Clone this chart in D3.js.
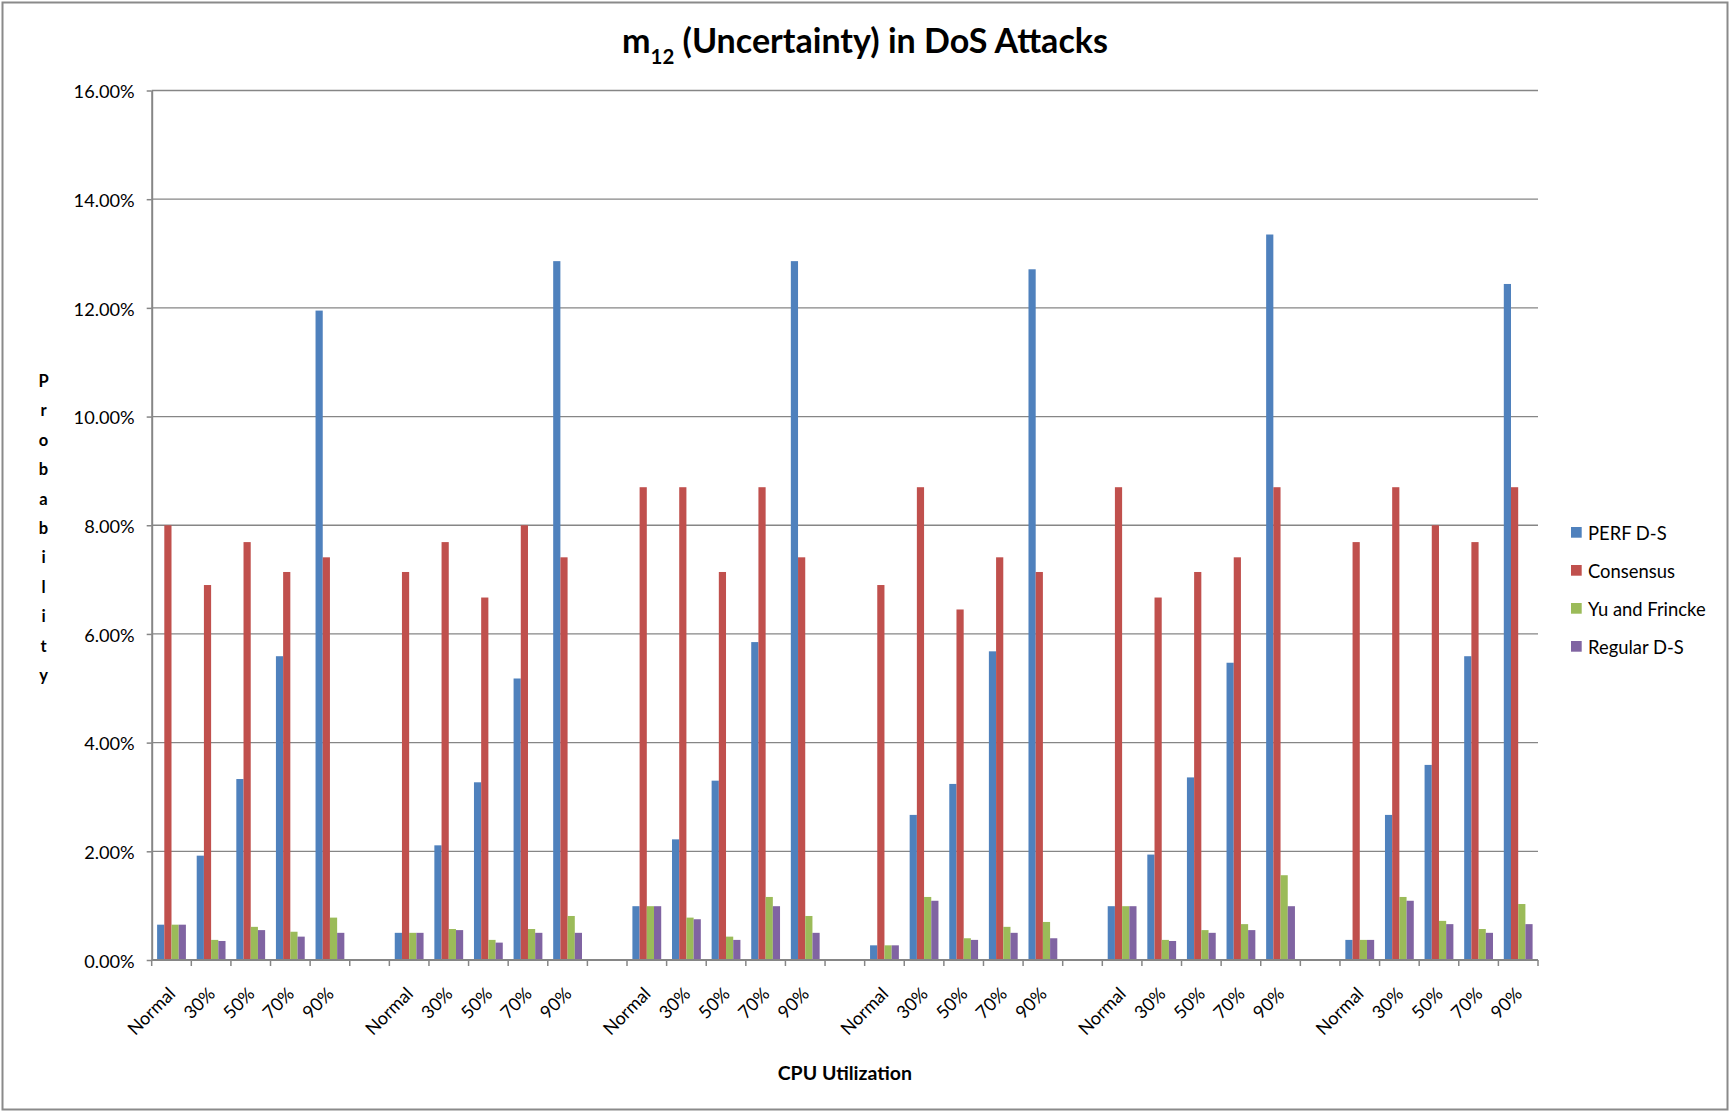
<!DOCTYPE html>
<html><head><meta charset="utf-8">
<script src="https://cdn.jsdelivr.net/npm/d3@7"></script>
<style>
html,body{margin:0;padding:0;background:#fff}
svg{display:block}
text{font-family:Lato,'Open Sans',sans-serif;fill:#000}
</style>
</head><body>
<svg id="chart" width="1730" height="1112"></svg>
<script>
// ---------- data ----------
const levels = ["Normal", "30%", "50%", "70%", "90%"];
const groupCount = 6;
const seriesNames = ["PERF D-S", "Consensus", "Yu and Frincke", "Regular D-S"];
const seriesColors = ["#4F81BD", "#C0504D", "#9BBB59", "#8064A2"];
const yTicks = [0, 0.02, 0.04, 0.06, 0.08, 0.10, 0.12, 0.14, 0.16];

// values in percent, 6 groups x 5 levels
const perfDS = [
  0.65, 1.92, 3.33, 5.59, 11.95,
  0.50, 2.11, 3.27, 5.18, 12.86,
  0.99, 2.22, 3.30, 5.85, 12.86,
  0.27, 2.67, 3.24, 5.68, 12.71,
  0.99, 1.94, 3.36, 5.47, 13.35,
  0.37, 2.67, 3.59, 5.59, 12.44
];
const consensus = [
  8.00, 6.90, 7.69, 7.14, 7.41,
  7.14, 7.69, 6.67, 8.00, 7.41,
  8.70, 8.70, 7.14, 8.70, 7.41,
  6.90, 8.70, 6.45, 7.41, 7.14,
  8.70, 6.67, 7.14, 7.41, 8.70,
  7.69, 8.70, 8.00, 7.69, 8.70
];
const yuFrincke = [
  0.65, 0.37, 0.61, 0.52, 0.78,
  0.50, 0.57, 0.37, 0.57, 0.81,
  0.99, 0.78, 0.43, 1.16, 0.81,
  0.27, 1.16, 0.40, 0.61, 0.70,
  0.99, 0.37, 0.55, 0.66, 1.56,
  0.37, 1.16, 0.72, 0.57, 1.03
];
const regularDS = [
  0.65, 0.35, 0.55, 0.43, 0.50,
  0.50, 0.55, 0.32, 0.50, 0.50,
  0.99, 0.75, 0.37, 0.99, 0.50,
  0.27, 1.09, 0.37, 0.50, 0.40,
  0.99, 0.35, 0.50, 0.55, 0.99,
  0.37, 1.09, 0.66, 0.50, 0.66
];
const seriesValues = [perfDS, consensus, yuFrincke, regularDS];

// ---------- layout ----------
const W = 1730, H = 1112;
const plot = {left: 151.7, right: 1538, top: 90.5, bottom: 960};
const svg = d3.select("#chart");
const gridColor = "#868686";

// slots: 5 levels per group, blank slot between groups
const slots = [];
for (let g = 0; g < groupCount; g++) {
  levels.forEach((lv, i) => slots.push({group: g, level: lv, idx: g * levels.length + i}));
  if (g < groupCount - 1) slots.push({group: g, level: null, idx: -1});
}
slots.forEach((s, i) => s.slot = i);

const x = d3.scaleBand().domain(d3.range(slots.length)).range([plot.left, plot.right]).padding(0);
const xs = d3.scaleBand().domain(d3.range(seriesNames.length)).range([0, x.bandwidth()])
  .paddingInner(0).paddingOuter(0.75);
const y = d3.scaleLinear().domain([0, 0.16]).range([plot.bottom, plot.top]);

// chart border
svg.append("rect").attr("x", 2.5).attr("y", 2.5).attr("width", W - 5).attr("height", H - 5)
  .attr("fill", "#fff").attr("stroke", "#8a8a8a").attr("stroke-width", 2);

// gridlines
svg.append("g").selectAll("line").data(yTicks.filter(t => t > 0)).join("line")
  .attr("x1", plot.left).attr("x2", plot.right)
  .attr("y1", d => y(d)).attr("y2", d => y(d))
  .attr("stroke", gridColor).attr("stroke-width", 1.3);

// bars
const barData = [];
slots.filter(s => s.level !== null).forEach(s => {
  seriesValues.forEach((arr, si) => barData.push({slot: s.slot, si, v: arr[s.idx] / 100}));
});
svg.append("g").selectAll("rect").data(barData).join("rect")
  .attr("x", d => x(d.slot) + xs(d.si))
  .attr("width", xs.bandwidth())
  .attr("y", d => y(d.v))
  .attr("height", d => y(0) - y(d.v))
  .attr("fill", d => seriesColors[d.si]);

// y axis
const yAxis = d3.axisLeft(y).tickValues(yTicks).tickFormat(d3.format(".2%")).tickSizeInner(5).tickSizeOuter(0).tickPadding(12);
const gy = svg.append("g").attr("transform", `translate(${plot.left},0)`).call(yAxis);
gy.select(".domain").attr("stroke", gridColor).attr("stroke-width", 2);
gy.selectAll(".tick line").attr("stroke", gridColor).attr("stroke-width", 1.5);
gy.selectAll(".tick text").style("font-family", "Lato, sans-serif").style("font-size", "18.2px").attr("fill", "#000").attr("dy", "0.4em");

// x axis: baseline + ticks at slot boundaries
svg.append("line").attr("x1", plot.left).attr("x2", plot.right).attr("y1", plot.bottom).attr("y2", plot.bottom)
  .attr("stroke", gridColor).attr("stroke-width", 2);
const boundaries = d3.range(slots.length + 1).map(i => plot.left + i * x.step());
svg.append("g").selectAll("line").data(boundaries).join("line")
  .attr("x1", d => d).attr("x2", d => d).attr("y1", plot.bottom).attr("y2", plot.bottom + 6)
  .attr("stroke", gridColor).attr("stroke-width", 1.5);

// x labels rotated
svg.append("g").selectAll("text").data(slots.filter(s => s.level !== null)).join("text")
  .attr("transform", d => `translate(${x(d.slot) + x.bandwidth() / 2 + 5},${plot.bottom + 35}) rotate(-45)`)
  .attr("text-anchor", "end")
  .style("font-size", "18px")
  .text(d => d.level);

// y axis title: stacked letters
const yTitle = "Probability".split("");
svg.append("g").selectAll("text").data(yTitle).join("text")
  .attr("x", 43.5).attr("y", (d, i) => 387 + i * 29.4)
  .attr("text-anchor", "middle").style("font-size", "16.5px").style("font-weight", "700")
  .text(d => d);

// x axis title
svg.append("text").attr("x", (plot.left + plot.right) / 2).attr("y", 1080)
  .attr("text-anchor", "middle").style("font-size", "19.5px").style("font-weight", "700")
  .text("CPU Utilization");

// chart title with subscript
const title = svg.append("text").attr("x", W / 2).attr("y", 53).attr("text-anchor", "middle")
  .style("font-weight", "700").style("font-size", "30px");
title.append("tspan").text("m");
title.append("tspan").attr("dy", 10.5).style("font-size", "0.6em").text("12");
title.append("tspan").attr("dy", -10.5).text(" (Uncertainty) in DoS Attacks");
const tw = title.node().getBBox().width;
const targetW = 486;
title.style("font-size", (30 * targetW / tw).toFixed(2) + "px");

// legend
const legend = svg.append("g");
seriesNames.forEach((name, i) => {
  const ly = 527 + i * 38;
  legend.append("rect").attr("x", 1571).attr("y", ly).attr("width", 10.7).attr("height", 10.7).attr("fill", seriesColors[i]);
  legend.append("text").attr("x", 1588).attr("y", ly + 12.5).style("font-size", "18.4px").text(name);
});
</script>
</body></html>
